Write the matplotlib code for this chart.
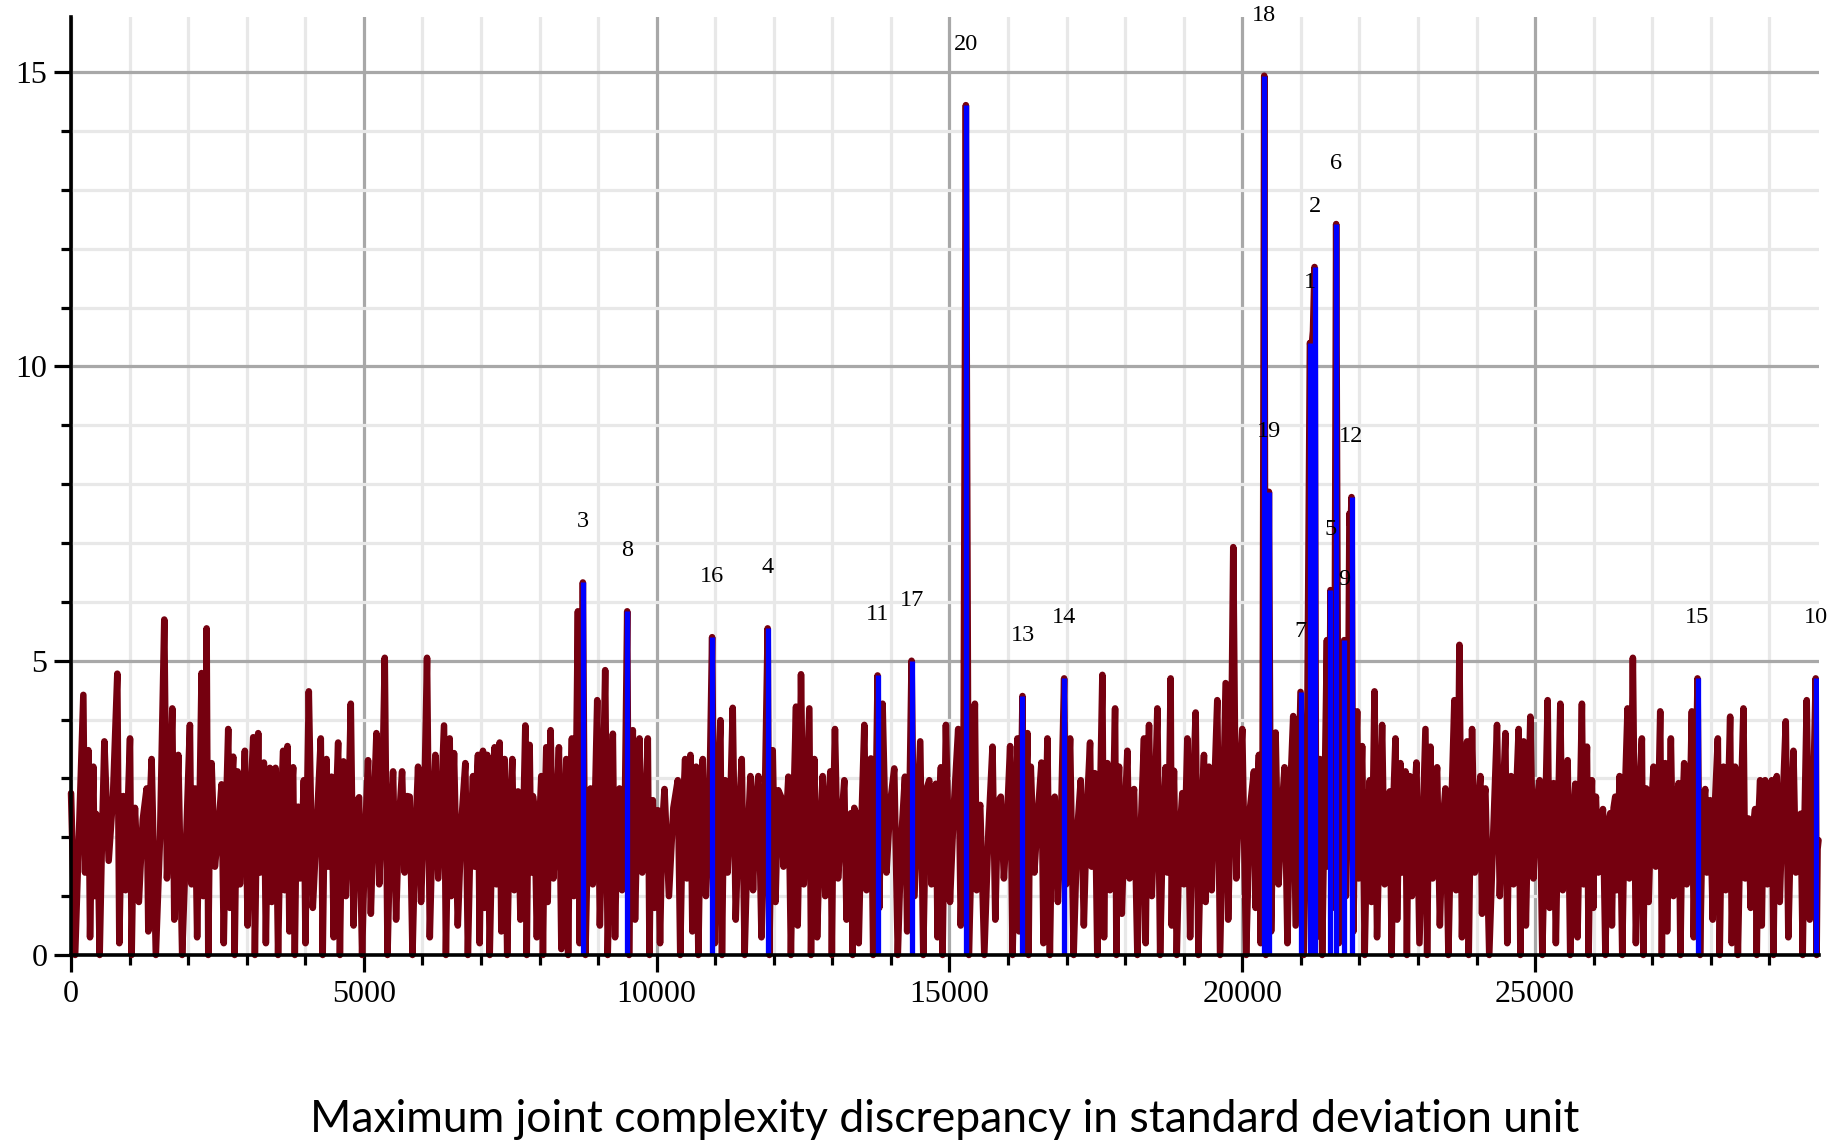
import numpy as np
import matplotlib
matplotlib.use('Agg')
import matplotlib.pyplot as plt
from matplotlib.ticker import MultipleLocator

# local maxima of the dark red series (x, value)
peak_x = [0, 210, 296, 381, 449, 569, 790, 893, 1007, 1092, 1291, 1376, 1592, 1729, 1831,
          2030, 2115, 2229, 2315, 2400, 2570, 2684, 2769, 2843, 2968, 3111, 3196, 3293, 3395, 3492,
          3622, 3696, 3793, 3878, 3975, 4060, 4265, 4362, 4447, 4561, 4652, 4777, 4919, 5072,
          5215, 5357, 5499, 5653, 5783, 5926, 6079, 6221, 6369, 6466, 6540, 6733, 6864, 6949, 7034,
          7108, 7233, 7319, 7404, 7535, 7632, 7757, 7831, 7916, 8030, 8115, 8189, 8331, 8456, 8553,
          8655, 8740, 8871, 8985, 9121, 9252, 9366, 9497, 9593, 9707, 9849, 9935, 10020, 10134,
          10361, 10486, 10577, 10674, 10788, 10947, 11089, 11169, 11299, 11453, 11601, 11737, 11896,
          11982, 12124, 12249, 12380, 12465, 12607, 12693, 12835, 12966, 13045, 13204, 13318, 13403,
          13546, 13659, 13773, 13858, 14057, 14240, 14353, 14501, 14655, 14768, 14854, 14939, 15149,
          15280,
          15434, 15525, 15735, 15877, 16036, 16161, 16247, 16332, 16389, 16571, 16673, 16798, 16958,
          17060, 17242, 17401, 17481, 17611, 17697, 17828, 17896, 18038, 18152, 18322, 18408, 18550,
          18692, 18777, 18834, 18976, 19062, 19204, 19346, 19431, 19573, 19716, 19846, 20000, 20199,
          20284, 20375,
          20455, 20569, 20722, 20870, 20995, 21155, 21234, 21325, 21445, 21506, 21603, 21740, 21830,
          21866, 21962, 22047, 22178, 22258, 22388, 22519, 22616, 22701, 22787, 22860, 22974, 23128,
          23213, 23327, 23469, 23622, 23708, 23839, 23924, 24066, 24151, 24350, 24493, 24589, 24720,
          24805, 24919, 25078, 25215, 25317, 25431, 25556,
          25687, 25800, 25886, 25971, 26039, 26159, 26284, 26369, 26443, 26579, 26670, 26824, 26898,
          27023, 27137, 27222, 27319, 27450, 27546, 27677, 27774, 27905, 27990, 28121, 28217, 28331,
          28416, 28558, 28644, 28757, 28843, 28928, 29042, 29127, 29281, 29412, 29536, 29639, 29792,
          29840]
peak_y = [2.75, 4.42, 3.48, 3.2, 2.35, 3.63, 4.78, 2.7, 3.68, 2.5, 2.83, 3.33, 5.7, 4.19, 3.4,
          3.91, 2.83, 4.79, 5.55, 3.26, 2.9, 3.84, 3.37, 3.12, 3.47, 3.7, 3.77, 3.27, 3.18, 3.18,
          3.47, 3.55, 3.19, 2.52, 2.97, 4.48, 3.68, 3.33, 3.03, 3.61, 3.29, 4.27, 2.68, 3.31,
          3.77, 5.05, 3.12, 3.12, 2.69, 3.2, 5.05, 3.4, 3.9, 3.68, 3.43, 3.26, 3.04, 3.4, 3.47,
          3.4, 3.53, 3.61, 3.33, 3.33, 2.78, 3.9, 3.57, 2.46, 3.04, 3.53, 3.82, 3.53, 3.33, 3.68,
          5.84, 6.33, 2.83, 4.33, 4.84, 3.76, 2.83, 5.84, 3.82, 3.68, 3.68, 2.63, 2.46, 2.82,
          2.97, 3.33, 3.4, 3.2, 3.33, 5.4, 3.99, 2.97, 4.2, 3.33, 3.04, 3.04, 5.55,
          3.48, 2.69, 3.03, 4.22, 4.77, 4.19, 3.33, 3.04, 3.12, 3.84, 2.97, 2.41, 2.41,
          3.91, 3.34, 4.75, 4.27, 3.17, 3.03, 5.0, 3.63, 2.97, 2.91, 3.19, 3.91, 3.84,
          14.44,
          4.27, 2.55, 3.54, 2.69, 3.55, 3.68, 4.4, 3.77, 3.2, 3.27, 3.68, 2.69, 4.7,
          3.68, 2.97, 3.61, 3.09, 4.76, 3.26, 4.19, 3.2, 3.47, 2.82, 3.68, 3.91, 4.19,
          3.19, 4.7, 3.13, 2.75, 3.68, 4.12, 3.4, 3.2, 4.33, 4.62, 6.93, 3.84, 3.12,
          3.4, 14.94,
          7.87, 3.78, 3.19, 4.06, 4.47, 10.4, 11.69, 3.33, 5.35, 6.2, 12.42, 5.35, 7.5,
          7.78, 4.14, 3.55, 2.97, 4.48, 3.91, 2.78, 3.68, 3.26, 3.12, 3.04, 3.27, 3.84,
          3.54, 3.19, 2.83, 4.33, 5.27, 3.63, 3.84, 3.04, 2.83, 3.91, 3.77, 3.04, 3.84,
          3.63, 4.05, 2.97, 4.33, 2.92, 4.27, 3.31,
          2.91, 4.27, 3.54, 2.97, 2.69, 2.48, 2.41, 2.69, 3.04, 4.19, 5.05, 3.68, 2.83,
          3.2, 4.14, 3.26, 3.68, 2.92, 3.26, 4.14, 4.7, 2.82, 2.63, 3.68, 3.2, 4.05,
          3.2, 4.19, 2.32, 2.48, 2.97, 2.97, 2.97, 3.04, 3.97, 3.47, 2.4, 4.33, 4.7,
          1.95]
# deepest dip right after each maximum
trough_y = [0.0, 1.4, 0.3, 1.0, 0.0, 1.6, 0.2, 1.1, 0.0, 0.9, 0.4, 0.0, 1.3, 0.6, 0.0,
            1.2, 0.3, 1.0, 0.0, 1.5, 0.2, 0.8, 0.0, 1.2, 0.5, 0.0, 1.4, 0.2, 0.9, 0.0,
            1.1, 0.4, 0.0, 1.3, 0.2, 0.8, 0.0, 1.5, 0.3, 0.0, 1.0, 0.5, 0.0, 0.7,
            1.2, 0.0, 0.6, 1.4, 0.0, 0.9, 0.3, 1.3, 0.0, 1.0, 0.5, 0.0, 1.5, 0.2, 0.8,
            0.0, 1.2, 0.4, 0.0, 1.1, 0.6, 0.0, 1.4, 0.3, 0.0, 0.9, 1.3, 0.1, 0.0, 1.0,
            0.2, 0.0, 1.2, 0.5, 0.0, 0.3, 1.1, 0.0, 0.6, 1.4, 0.0, 0.8, 0.2, 1.0,
            0.0, 1.3, 0.4, 0.0, 1.0, 0.2, 0.0, 1.4, 0.6, 0.0, 1.1, 0.3, 0.0, 0.9, 1.5,
            0.0, 0.5, 1.2, 0.0, 0.3, 1.0, 0.0, 1.3, 0.6, 0.0, 0.2, 1.1, 0.0, 0.8, 1.4,
            0.0, 0.4, 1.0, 0.0, 1.2, 0.3, 0.0, 0.9, 0.5, 0.0,
            1.1, 0.0, 0.6, 1.3, 0.0, 0.4, 1.0, 0.0, 1.4, 0.2, 0.0, 0.9, 1.2, 0.0, 0.5,
            1.5, 0.0, 0.3, 1.1, 0.0, 0.7, 1.3, 0.0, 0.2, 1.0, 0.0, 1.4, 0.5, 0.0, 1.2,
            0.3, 0.0, 0.9, 1.1, 0.0, 0.6, 1.3, 0.0, 0.8, 0.2, 0.0,
            0.4, 1.2, 0.2, 0.5, 0.0, 10.3, 0.3, 0.0, 1.5, 0.8, 0.2, 1.0, 7.3, 0.4, 1.3,
            0.0, 0.9, 0.3, 1.2, 0.0, 0.6, 1.4, 0.0, 1.0, 0.2, 0.0, 1.3, 0.5, 0.0, 1.1,
            0.3, 0.0, 1.4, 0.7, 0.0, 1.0, 0.2, 1.2, 0.0, 0.5, 1.3, 0.0, 0.8, 0.2, 1.1, 0.0,
            0.3, 1.2, 0.0, 0.8, 1.4, 0.0, 0.5, 1.1, 0.0, 1.3, 0.2, 0.0, 0.9, 1.5, 0.0,
            0.4, 1.0, 0.0, 1.2, 0.3, 0.0, 1.4, 0.6, 0.0, 1.1, 0.2, 0.0, 1.3, 0.8, 0.0,
            0.5, 1.2, 0.0, 0.9, 0.3, 1.4, 0.0, 0.6, 0.0]
# level of the solid band reached again before the next maximum
sub_y = [2.2, 2.6, 1.9, 2.4, 2.0, 2.7, 2.1, 2.5, 1.8, 2.3, 2.6, 2.0, 2.4, 2.2, 1.9,
         2.7, 2.3, 2.0, 2.5, 2.1, 2.4, 2.8, 1.9, 2.3, 2.6, 2.0, 2.2, 2.5, 2.1, 2.4,
         1.9, 2.6, 2.3, 2.0, 2.7, 2.2, 2.4, 1.8, 2.5, 2.1, 2.3, 2.6, 2.0, 2.4,
         2.5, 2.1, 2.3, 2.7, 2.0, 2.4, 2.2, 2.6, 1.9, 2.5, 2.3, 2.0, 2.8, 2.2, 2.4,
         2.1, 2.6, 2.0, 2.3, 2.5, 1.9, 2.4, 2.7, 2.1, 2.3, 2.6, 2.2, 2.0, 2.5, 2.8,
         2.3, 2.1, 2.6, 2.4, 2.0, 2.5, 2.2, 2.7, 2.3, 2.1, 2.4, 2.0, 2.2, 2.5,
         2.3, 2.6, 2.0, 2.4, 2.2, 2.7, 2.1, 2.5, 2.3, 1.9, 2.6, 2.4, 2.0, 2.8, 2.2,
         2.5, 2.1, 2.7, 2.3, 2.0, 2.4, 2.6, 2.2, 1.9, 2.5, 2.3, 2.7, 2.1, 2.4, 2.6,
         2.0, 2.5, 2.3, 2.8, 2.2, 2.4, 2.1, 2.6, 2.3, 2.0,
         2.4, 2.1, 2.6, 2.3, 2.0, 2.5, 2.7, 2.2, 2.4, 2.0, 2.6, 2.3, 2.8, 2.1, 2.5,
         2.2, 2.4, 2.7, 2.0, 2.6, 2.3, 2.5, 2.1, 2.8, 2.4, 2.2, 2.6, 2.3, 2.0, 2.5,
         2.7, 2.2, 2.4, 2.9, 2.3, 2.6, 2.8, 2.5, 2.7, 2.4, 2.2,
         2.6, 2.4, 2.8, 2.5, 2.7, 10.6, 2.9, 2.6, 3.0, 2.8, 3.1, 2.7, 7.4, 2.9, 2.5,
         2.3, 2.6, 2.2, 2.4, 2.7, 2.1, 2.5, 2.3, 2.6, 2.0, 2.4, 2.7, 2.2, 2.5, 2.3,
         2.8, 2.1, 2.4, 2.6, 2.0, 2.5, 2.3, 2.7, 2.2, 2.4, 2.6, 2.1, 2.5, 2.3, 2.7, 2.2,
         2.3, 2.6, 2.1, 2.4, 2.0, 2.2, 2.5, 2.1, 2.7, 2.3, 2.6, 2.0, 2.4, 2.2, 2.8,
         2.1, 2.5, 2.3, 2.0, 2.6, 2.4, 2.1, 2.7, 2.3, 2.5, 2.0, 2.4, 2.2, 2.1, 2.3,
         2.5, 2.0, 2.4, 2.6, 2.2, 2.1, 2.5, 2.3, 1.8]

# highlighted (numbered) points
mark_x = [21155, 21234, 8740, 11896, 21506, 21603, 20995, 9497, 21740, 29792,
          13773, 21866, 16247, 16958, 27774, 10947, 14353, 20375, 20455, 15280]
mark_y = [10.4, 11.69, 6.33, 5.55, 6.2, 12.42, 4.47, 5.84, 5.35, 4.7,
          4.75, 7.78, 4.4, 4.7, 4.7, 5.4, 5.0, 14.94, 7.87, 14.44]
mark_lab = [str(i) for i in range(1, 21)]

dark_red = '#75000f'

# each gap: maximum -> dip -> band level -> next maximum
px = np.array(peak_x, dtype=float)
gap = np.diff(px)
n = len(px)
xs = np.empty(3 * n - 2)
ys = np.empty_like(xs)
xs[0::3] = px
xs[1::3] = px[:-1] + gap / 3
xs[2::3] = px[:-1] + 2 * gap / 3
ys[0::3] = peak_y
ys[1::3] = trough_y
ys[2::3] = sub_y

fig = plt.figure(figsize=(18.31, 11.40), dpi=100)
ax = fig.add_axes([0.0388, 0.1623, 0.9547, 0.8224])

ax.plot(xs, ys, color=dark_red, lw=4.7, solid_joinstyle='round',
        solid_capstyle='round', clip_on=False, zorder=2)
ax.vlines(mark_x, 0, mark_y, colors='#0000ff', lw=3.8, zorder=3)
for x, y, s in zip(mark_x, mark_y, mark_lab):
    ax.text(x, y + 1.03, s, ha='center', va='center', fontsize=17.5,
            family='Liberation Serif', zorder=4)

ax.set_xlim(0, 29850)
ax.set_ylim(0, 15.93)
ax.xaxis.set_major_locator(MultipleLocator(5000))
ax.xaxis.set_minor_locator(MultipleLocator(1000))
ax.yaxis.set_major_locator(MultipleLocator(5))
ax.yaxis.set_minor_locator(MultipleLocator(1))
ax.set_xticks([0, 5000, 10000, 15000, 20000, 25000])

ax.grid(which='minor', color='#e8e8e8', lw=2.3)
ax.grid(which='major', color='#a8a8a8', lw=2.3)
ax.set_axisbelow(True)

for side in ['top', 'right']:
    ax.spines[side].set_visible(False)
for side in ['left', 'bottom']:
    ax.spines[side].set_linewidth(2.6)
    ax.spines[side].set_zorder(5)

ax.tick_params(which='major', length=12, width=2.3, labelsize=23)
ax.tick_params(which='minor', length=7, width=2.3)
ax.tick_params(axis='x', which='major', pad=6)
ax.tick_params(axis='y', which='major', pad=5)
for lab in ax.get_xticklabels() + ax.get_yticklabels():
    lab.set_family('Liberation Serif')

ax.set_xlabel('Maximum joint complexity discrepancy in standard deviation unit',
              family='Lato', fontsize=32, labelpad=65)

fig.savefig('out.png', dpi=100)
